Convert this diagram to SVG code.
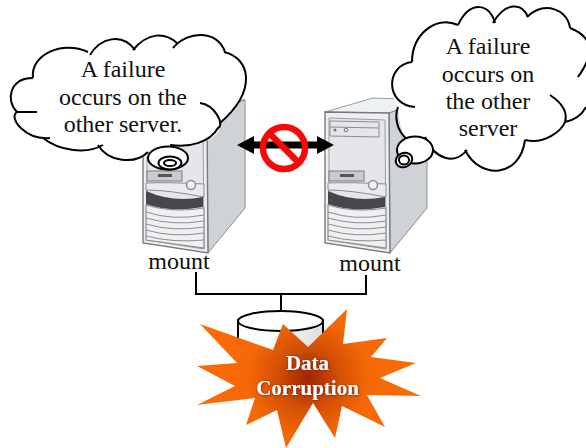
<svg xmlns="http://www.w3.org/2000/svg" width="586" height="448" viewBox="0 0 586 448">
<style>
.t{font-family:"Liberation Serif","Times New Roman",serif;font-size:24px;fill:#111;text-anchor:middle}
.b{font-family:"Liberation Serif","Times New Roman",serif;font-size:21px;font-weight:bold;fill:#fff;text-anchor:middle;filter:url(#sh)}
.cf{fill:#fff;stroke:none}
.cs{fill:none;stroke:#000;stroke-width:2}
.bub{fill:#fff;stroke:#000;stroke-width:2}
.w{fill:none;stroke:#000;stroke-width:2}
.ln{fill:none;stroke:#8b8d90;stroke-width:1}
.gr{fill:#eef0f2;stroke:#8b8d90;stroke-width:1.2}
</style>
<defs>
<linearGradient id="cyl" x1="0" x2="1" y1="0" y2="0"><stop offset="0" stop-color="#fff"/><stop offset=".5" stop-color="#fafafa"/><stop offset="1" stop-color="#ddd"/></linearGradient>
<radialGradient id="burst" gradientUnits="userSpaceOnUse" cx="308" cy="378" r="110"><stop offset="0" stop-color="#a02400"/><stop offset=".28" stop-color="#d24f05"/><stop offset=".55" stop-color="#f56807"/><stop offset="1" stop-color="#fb6c05"/></radialGradient>
<filter id="sh" x="-20%" y="-30%" width="140%" height="160%"><feDropShadow dx="0.5" dy="0.5" stdDeviation="1" flood-color="#7a2000"/></filter>
<g id="srv">
<polygon points="325,112 373,98 427,100 389,113" fill="#eef1f4" stroke="#9a9c9f"/>
<polygon points="389,113 427,100 427,208 390,253" fill="#cfd2d6" stroke="#8b8d90"/>
<polygon points="325,112 389,113 390,253 325,243" fill="#eceef1" stroke="#77797c" stroke-width="1.400"/>
<polygon points="329,118 385,120 386,249 329,240" fill="#e4e6ea" stroke="#9a9c9f"/>
<path class="ln" d="M330,121 L379,122 L379,137 L330,136 Z M330,127 L379,128"/>
<circle cx="335" cy="130" r="1.500" fill="#777"/><circle cx="346" cy="130" r="1.800" fill="none" stroke="#777"/>
<rect x="329" y="171" width="35" height="10" fill="#c9cbce" stroke="#7a7c7f"/>
<rect x="340" y="174" width="14" height="3" fill="#555"/>
<path d="M328,183 Q350,182 386,184 V197 Q350,190 328,190 Z" fill="#e9ebee" stroke="#8b8d90"/>
<circle cx="373" cy="185" r="4.500" fill="#f2f3f4" stroke="#8b8d90" stroke-width="1.500"/>
<path d="M328,191 Q355,203 385,197 V207 Q352,213 328,204 Z" fill="#45474a"/>
<path class="gr" d="M328,205 Q355,213 386,208 V248 L328,240 Z"/>
<path class="ln" d="M328,212 Q355,221 386,215 M328,218 Q355,226 386,221 M328,224 Q355,232 386,227 M328,230 Q355,238 386,233 M328,236 Q355,243 386,240"/>
</g>
</defs>

<g id="server-left"><use href="#srv" transform="translate(-182,0)"/></g>
<g id="server-right"><use href="#srv"/></g>

<g id="connectors">
<path class="w" d="M196,272 V294 H366 V275 M281,294 V312"/>
<path d="M237,145 L254,136 V141.500 H317 V136 L334,145 L317,154 V148.500 H254 V154 Z" fill="#000"/>
</g>

<g id="no-sign" fill="none" stroke="#f50a0a" stroke-width="6.500">
<circle cx="284" cy="148" r="21"/>
<path d="M269,133 L299,163"/>
</g>

<g id="disk">
<path d="M238,320 V362 H323 V320 Z" fill="url(#cyl)" stroke="#000" stroke-width="2"/>
<ellipse cx="280.500" cy="321" rx="42.500" ry="10" fill="#fff" stroke="#000" stroke-width="2"/>
</g>

<g id="burst-node">
<polygon fill="url(#burst)" points="283,324 308,347 347,309 343,344 387,338 371,357 416,363 380,378 421,396 367,395 385,427 342,406 335,438 313,403 286,448 277,410 246,425 255,398 197,405 235,386 197,366 237,363 200,324 273,350"/>
<text class="b" x="307.500" y="370">Data</text>
<text class="b" x="307.500" y="395">Corruption</text>
</g>

<g id="cloud-left">
<path class="cf" d="M33,78 C38,52 70,40 88,52 C100,38 122,32 135,48 C148,32 165,32 177,43 C195,28 218,32 225,52 C250,62 258,92 220,123 C222,140 195,148 170,145 C150,160 115,165 100,145 C80,155 55,148 43,138 C22,140 8,120 17,112 C5,100 10,78 33,78 Z"/>
<path class="cs" d="M33,78 C30,55 62,40 88,52"/>
<path class="cs" d="M90,55 C100,38 122,32 135,50"/>
<path class="cs" d="M133,50 C148,32 165,32 177,43"/>
<path class="cs" d="M173,48 C188,30 218,30 225,52"/>
<path class="cs" d="M224,52 C250,58 258,90 220,123"/>
<path class="cs" d="M200,103 C215,105 225,125 218,128 C210,142 190,148 170,145"/>
<path class="cs" d="M148,152 C135,165 108,162 98,145"/>
<path class="cs" d="M103,145 C85,155 58,150 43,138"/>
<path class="cs" d="M50,138 C25,140 8,118 17,112 C20,112 25,112 37,112"/>
<path class="cs" d="M17,112 C5,100 10,78 33,78"/>
<ellipse class="bub" cx="168" cy="158" rx="20" ry="11.500"/>
<ellipse class="bub" cx="170" cy="163" rx="11.500" ry="6.500"/>
<ellipse class="bub" cx="170" cy="163" rx="6" ry="3"/>
<text class="t" x="123" y="77">A failure</text>
<text class="t" x="123" y="105">occurs on the</text>
<text class="t" x="123" y="132">other server.</text>
</g>

<g id="cloud-right">
<path class="cf" d="M412,62 C420,35 445,15 458,25 C465,5 490,0 495,23 C505,2 525,2 528,17 C545,0 570,10 570,28 C590,40 590,60 578,77 C590,100 580,115 565,122 C555,145 540,150 525,140 C515,175 480,180 465,150 C450,165 435,160 425,137 C410,150 400,140 398,107 C385,90 395,65 412,62 Z"/>
<path class="cs" d="M412,62 C412,35 435,15 458,25"/>
<path class="cs" d="M458,25 C470,0 490,3 495,23"/>
<path class="cs" d="M493,23 C505,2 522,2 528,17"/>
<path class="cs" d="M527,17 C545,0 568,10 570,28"/>
<path class="cs" d="M570,28 C600,40 590,60 578,77"/>
<path class="cs" d="M550,95 C562,103 568,112 565,122 C562,130 545,145 525,140"/>
<path class="cs" d="M565,122 C575,120 582,115 586,107"/>
<path class="cs" d="M525,140 C520,178 480,180 465,150"/>
<path class="cs" d="M467,150 C455,165 435,160 425,137"/>
<path class="cs" d="M408,140 C395,130 395,115 398,107"/>
<path class="cs" d="M415,107 C385,105 385,65 412,62"/>
<ellipse class="bub" cx="415" cy="150" rx="18" ry="13.500"/>
<ellipse class="bub" cx="404" cy="160" rx="8.500" ry="7" transform="rotate(-25 404 160)"/>
<ellipse class="bub" cx="404" cy="160" rx="5" ry="4.500"/>
<text class="t" x="488" y="54">A failure</text>
<text class="t" x="488" y="82">occurs on</text>
<text class="t" x="488" y="109">the other</text>
<text class="t" x="488" y="136">server</text>
</g>

<g id="labels">
<text class="t" x="179" y="269">mount</text>
<text class="t" x="370" y="271">mount</text>
</g>
</svg>
